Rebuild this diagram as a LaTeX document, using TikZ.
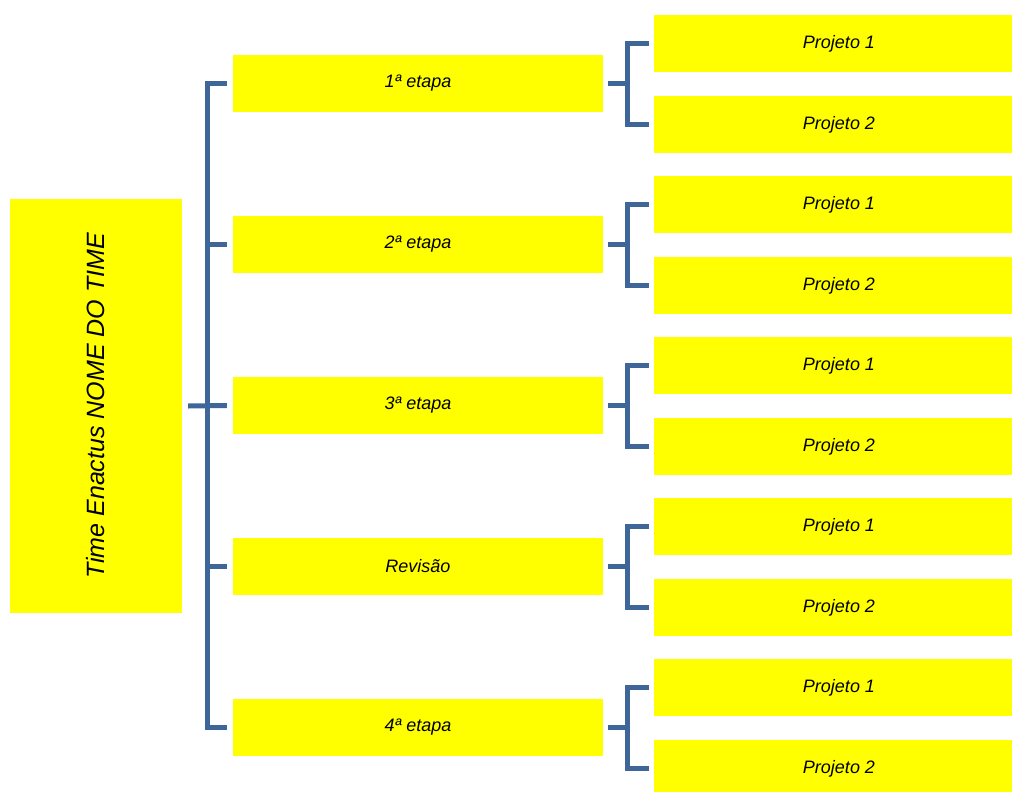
\documentclass[tikz,border=0pt]{standalone}
\usepackage{fontspec}
\setmainfont{Liberation Sans}
\usepackage{tikz}
\usetikzlibrary{positioning}
\definecolor{linkblue}{RGB}{62,102,152}
\definecolor{boxyellow}{RGB}{255,255,0}

\begin{document}
\begin{tikzpicture}[
  x=1pt, y=-1pt,
  root/.style={fill=boxyellow, rectangle, inner sep=0pt, rotate=90,
    minimum width=414pt, minimum height=172pt, font=\itshape\fontsize{25}{28}\selectfont},
  stage/.style={fill=boxyellow, rectangle, inner sep=0pt,
    minimum width=370pt, minimum height=57pt, font=\itshape\fontsize{18}{20}\selectfont},
  project/.style={fill=boxyellow, rectangle, inner sep=0pt,
    minimum width=358pt, minimum height=57pt, font=\itshape\fontsize{18}{20}\selectfont,
    execute at begin node=\hspace*{12pt}},
  link/.style={linkblue, line width=5pt, line cap=butt, line join=miter},
]

\useasboundingbox (0,0) rectangle (1012,792);

\node (root) [root] at (96,406) {Time Enactus NOME DO TIME};

\foreach \name [count=\i from 0] in {1ª etapa, 2ª etapa, 3ª etapa, Revisão, 4ª etapa} {
  \node (st\i) [stage] at (418, 83.5+161*\i) {\name};
  \node (pa\i) [project] at (833, 43.5+161*\i) {Projeto 1};
  \node (pb\i) [project] at (833, 124.5+161*\i) {Projeto 2};
}

\coordinate (trunk) at (207.5, 0);

\draw[link]
  ([xshift=6pt]root.south) -- ([xshift=-6pt]st2.west);
\draw[link]
  ([xshift=-6pt]st0.west) -| (trunk |- st4.west) -- ([xshift=-6pt]st4.west);
\foreach \i in {1,3} {
  \draw[link] (trunk |- st\i.west) -- ([xshift=-6pt]st\i.west);
}

\foreach \i in {0,...,4} {
  \draw[link]
    ([xshift=5pt]st\i.east) -- ([xshift=-26pt]pa\i.west |- st\i.east);
  \draw[link]
    ([xshift=-5pt]pa\i.west) -| ([xshift=-26pt]pb\i.west) -- ([xshift=-5pt]pb\i.west);
}

\end{tikzpicture}
\end{document}
